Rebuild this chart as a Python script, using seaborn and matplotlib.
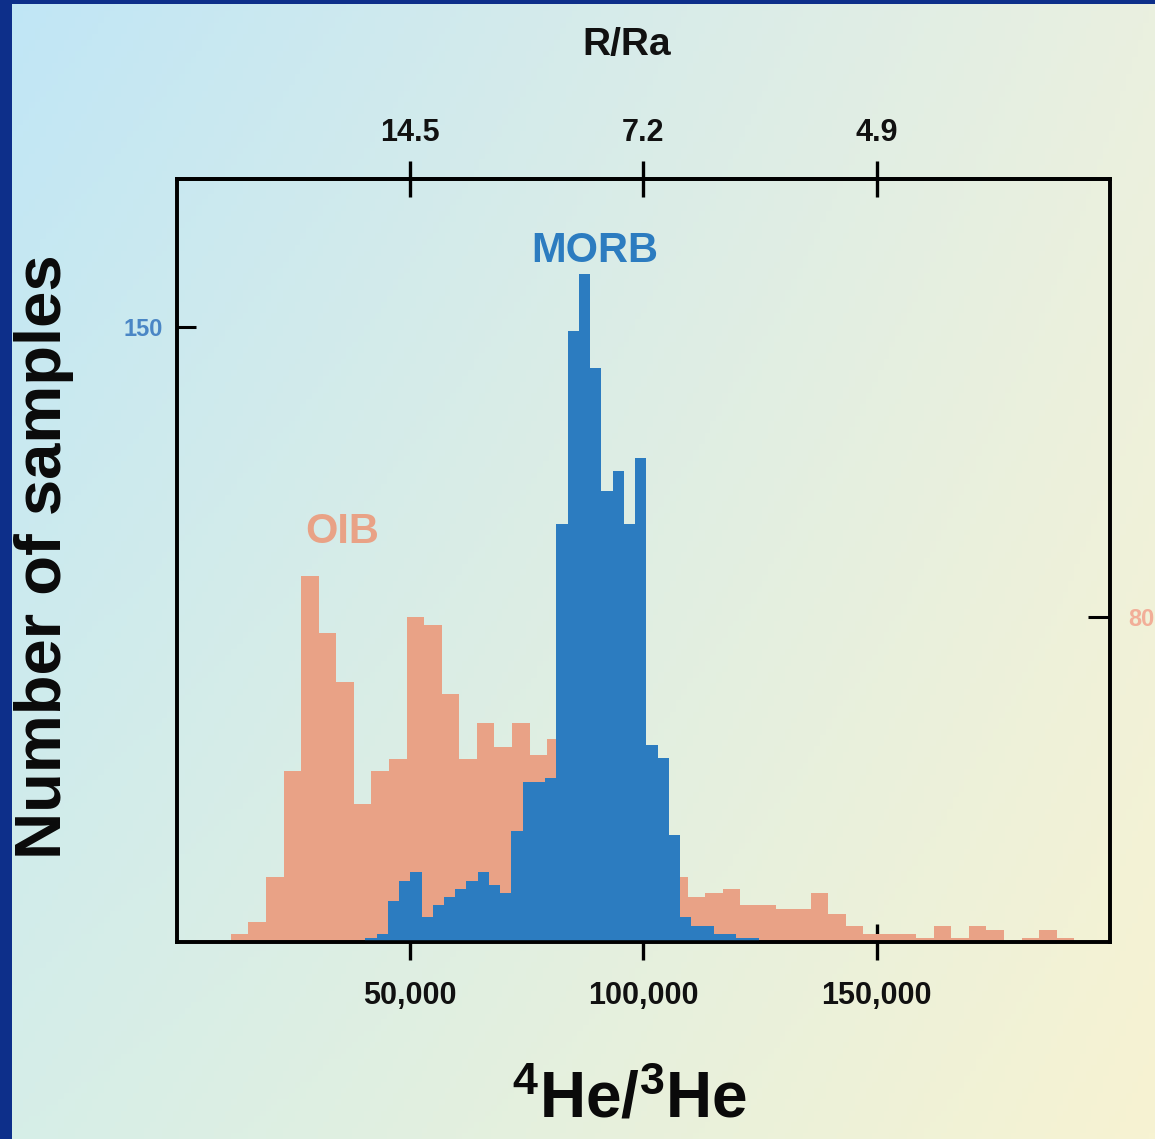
import numpy as np
import pandas as pd
import matplotlib
matplotlib.use("Agg")
import matplotlib.pyplot as plt
import seaborn as sns
from matplotlib.patches import Rectangle

sns.set_theme(style="white")
plt.rcParams["font.family"] = ["Liberation Sans", "DejaVu Sans"]
plt.rcParams["mathtext.fontset"] = "custom"
plt.rcParams["mathtext.rm"] = "Liberation Sans:bold"
plt.rcParams["mathtext.bf"] = "Liberation Sans:bold"
plt.rcParams["mathtext.it"] = "Liberation Sans:bold"

# ---------------- data ----------------
oib_bin_start = 11540
oib_bin_width = 3767
oib_counts = [2, 5, 16, 42, 90, 76, 64, 34, 42, 45, 80, 78, 61, 45, 54, 48, 54, 46, 50,
              46, 42, 38, 32, 26, 20, 16, 11, 12, 13, 9, 9, 8, 8, 12, 7, 4, 2, 2, 2,
              1, 4, 1, 4, 3, 0, 1, 3, 1]

morb_bin_start = 40370
morb_bin_width = 2409
morb_counts = [1, 2, 10, 15, 17, 6, 9, 11, 13, 15, 17, 14, 12, 27, 39, 39, 40, 102, 149,
               163, 140, 110, 115, 102, 118, 48, 45, 26, 6, 4, 4, 2, 2, 1, 1]

bottom_ticks = [50000, 100000, 150000]
bottom_labels = ["50,000", "100,000", "150,000"]
top_labels = ["14.5", "7.2", "4.9"]
left_ticks = [150]
right_ticks = [80]

oib_edges = [float(e) for e in oib_bin_start + oib_bin_width * np.arange(len(oib_counts) + 1)]
morb_edges = [float(e) for e in morb_bin_start + morb_bin_width * np.arange(len(morb_counts) + 1)]
oib_df = pd.DataFrame({"ratio": [(a + c) / 2 for a, c in zip(oib_edges[:-1], oib_edges[1:])],
                       "n": oib_counts})
morb_df = pd.DataFrame({"ratio": [(a + c) / 2 for a, c in zip(morb_edges[:-1], morb_edges[1:])],
                        "n": morb_counts})

OIB_C = "#E9A286"
MORB_C = "#2C7CC0"

W, H = 1155, 1139
fig = plt.figure(figsize=(W / 100, H / 100), dpi=100)

# background gradient
bg = fig.add_axes([0, 0, 1, 1], zorder=-10)
tl = np.array([192, 230, 246]) / 255
tr = np.array([234, 240, 224]) / 255
bl = np.array([214, 238, 232]) / 255
br = np.array([247, 243, 210]) / 255
u = np.linspace(0, 1, 200)[None, :, None]
v = np.linspace(0, 1, 200)[:, None, None]
img = (1 - v) * ((1 - u) * tl + u * tr) + v * ((1 - u) * bl + u * br)
bg.imshow(img, aspect="auto", extent=[0, 1, 0, 1], origin="upper")
bg.set_xlim(0, 1); bg.set_ylim(0, 1)
bg.axis("off")
bg.add_patch(Rectangle((0, 0), 12 / W, 1, color="#0D2F8A", lw=0))
bg.add_patch(Rectangle((0, 1 - 4 / H), 1, 4 / H, color="#0D2F8A", lw=0))

l, r, t, b = 177 / W, 1110 / W, 1 - 179 / H, 1 - 942 / H
ax = fig.add_axes([l, b, r - l, t - b])
ax.patch.set_alpha(0)

sns.histplot(data=oib_df, x="ratio", weights="n", bins=oib_edges, ax=ax,
             color=OIB_C, alpha=1, linewidth=0, element="bars")
ax.set_xlim(0, 200000)
ax.set_ylim(0, 187.8)

axm = ax.twinx()
axm.patch.set_alpha(0)
sns.histplot(data=morb_df, x="ratio", weights="n", bins=morb_edges, ax=axm,
             color=MORB_C, alpha=1, linewidth=0, element="bars")
axm.set_xlim(0, 200000)
axm.set_ylim(0, 186.1)

# OIB scale on the right, MORB scale on the left
ax.yaxis.tick_right()
ax.set_yticks(right_ticks)
ax.set_yticklabels([str(v) for v in right_ticks], color="#F2AE98", fontsize=17, fontweight="bold")
ax.tick_params(axis="y", which="both", direction="in", length=16, width=2.2, color="black", pad=13,
               right=True, left=False, labelright=True, labelleft=False)

axm.yaxis.tick_left()
axm.set_yticks(left_ticks)
axm.set_yticklabels([str(v) for v in left_ticks], color="#4A86C5", fontsize=17, fontweight="bold")
axm.tick_params(axis="y", which="both", direction="in", length=14, width=2.2, color="black", pad=10,
                left=True, right=False, labelleft=True, labelright=False)

for a in (ax, axm):
    a.set_xlabel("")
    a.set_ylabel("")
    for s in a.spines.values():
        s.set_color("black")
        s.set_linewidth(2.6)

ax.set_xticks(bottom_ticks)
ax.set_xticklabels(bottom_labels, fontsize=22, fontweight="bold", color="#111111")
ax.tick_params(axis="x", direction="inout", length=26, width=2.4, color="black", pad=15, bottom=True)
axm.tick_params(axis="x", bottom=False, labelbottom=False)

sec = ax.secondary_xaxis("top")
sec.set_xticks(bottom_ticks)
sec.set_xticklabels(top_labels, fontsize=22, fontweight="bold", color="#111111")
sec.tick_params(axis="x", direction="inout", length=26, width=2.4, color="black", pad=9)
sec.spines["top"].set_linewidth(2.6)

ax.text(89600, 170, "MORB", color=MORB_C, fontsize=30, fontweight="bold", ha="center", va="center")
ax.text(35500, 101, "OIB", color=OIB_C, fontsize=30, fontweight="bold", ha="center", va="center")

fig.text(627 / W, 1 - 45 / H, "R/Ra", fontsize=28, fontweight="bold", ha="center", va="center", color="#111111")
fig.text(44 / W, 1 - 557 / H, "Number of samples", fontsize=47, fontweight="bold",
         rotation=90, ha="center", va="center", color="#0a0a0a")
fig.text(630 / W, 1 - 1100 / H, r"$^{4}$He/$^{3}$He", fontsize=46, fontweight="bold",
         ha="center", va="center", color="#0a0a0a")

fig.savefig("out.png", dpi=100)
